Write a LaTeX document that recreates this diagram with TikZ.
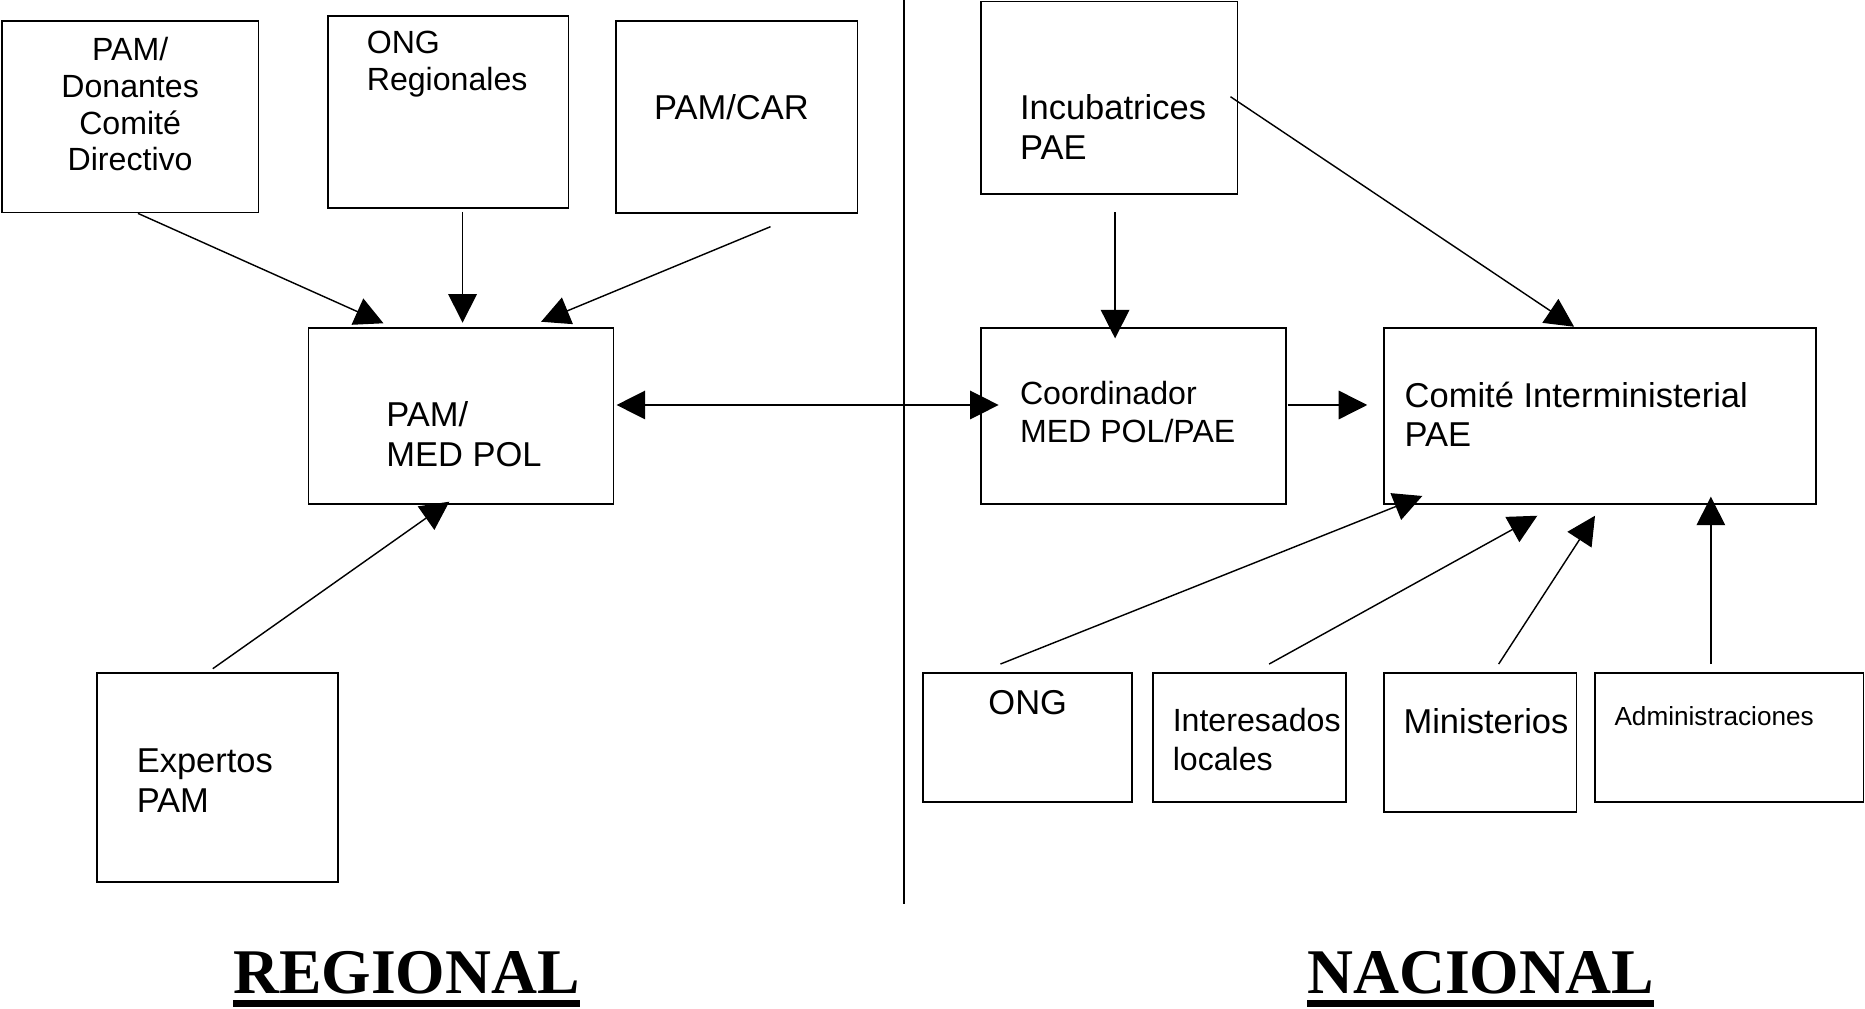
\documentclass[tikz,border=0pt]{standalone}
\usepackage{fontspec}
\setmainfont{Liberation Sans}
\newfontfamily\titlefont{Liberation Serif}
\usetikzlibrary{arrows.meta}
\newcommand\bxn[5]{\node[bx, minimum width={#4-#2}, minimum height={#5-#3}] (#1) at (#2,#3) {};}
\tikzset{
  bx/.style={draw, line width=1.4pt, inner sep=0pt, outer sep=0pt, anchor=north west},
  txt/.style={inner sep=0pt, outer sep=0pt, align=left, anchor=base west},
  big/.style={font=\fontsize{29}{33.2}\selectfont},
  med/.style={font=\fontsize{27}{30.8}\selectfont},
  sml/.style={font=\fontsize{22}{25}\selectfont},
  ttl/.style={inner sep=0pt, outer sep=0pt, anchor=base west, font=\titlefont\bfseries\fontsize{53.5}{60}\selectfont},
  arr/.style={-{Triangle[length=24pt,width=24pt]}, line width=1.2pt},
  darr/.style={{Triangle[length=24pt,width=24pt]}-{Triangle[length=24pt,width=24pt]}, line width=1.2pt}
}
\begin{document}
\begin{tikzpicture}[x=1pt,y=-1pt]
\useasboundingbox (0,0) rectangle (1568,847.5);
% boxes
\bxn{don}{1.5}{17.4}{217.4}{178.8}
\bxn{ongr}{276}{13.2}{478}{175}
\bxn{car}{518}{17.4}{721}{179}
\bxn{medpol}{259.4}{275.5}{515.9}{423.7}
\bxn{exp}{81.5}{566.1}{284.4}{741.8}
\bxn{incu}{824.6}{1.4}{1040.5}{163.1}
\bxn{coord}{824.6}{275.5}{1081}{423.7}
\bxn{comite}{1163.6}{275.5}{1526.8}{423.7}
\bxn{ong}{776}{566.1}{951.6}{674}
\bxn{inter}{969.6}{566.1}{1131.5}{674}
\bxn{mini}{1163.5}{566.1}{1325.5}{682.6}
\bxn{admin}{1341}{566.1}{1566.8}{674}
% texts (anchor = baseline of last line)
\node[txt, med, align=center, anchor=base] (donT) at (109.4,143.5) {PAM/\\Donantes\\Comité\\Directivo};
\node[txt, med] (ongrT) at (308.4,76.2) {ONG\\Regionales};
\node[txt, big] (carT) at (549.9,100.3) {PAM/CAR};
\node[txt, big] (medpolT) at (324.9,391.8) {PAM/\\MED POL};
\node[txt, big] (expT) at (115,683) {Expertos\\PAM};
\node[txt, big] (incuT) at (857.6,134) {Incubatrices\\PAE};
\node[txt, med] (coordT) at (857.6,371.9) {Coordinador\\[1pt]MED POL/PAE};
\node[txt, big] (comiteT) at (1181,375.5) {Comité Interministerial\\PAE};
\node[txt, big] (ongT) at (831,600.9) {ONG};
\node[txt, med] (interT) at (986,647.4) {Interesados\\[1.4pt]locales};
\node[txt, big] (miniT) at (1180,616.5) {Ministerios};
\node[txt, sml] (adminT) at (1357.4,610.1) {Administraciones};
% divider
\coordinate (divtop) at (759.8,0);
\coordinate (divbot) at (759.8,760);
\draw[line width=1.3pt] (divtop) -- (divbot);
% connector ends
\coordinate (a1s) at (116,179.4);   \coordinate (a1e) at (322.4,271.8);
\coordinate (a2s) at (388.9,178.2); \coordinate (a2e) at (388.9,271.3);
\coordinate (a3s) at (647.8,190.6); \coordinate (a3e) at (454.9,270.5);
\coordinate (a4s) at (178.9,562.2); \coordinate (a4e) at (377.8,421.8);
\coordinate (a5s) at (518.4,340.5); \coordinate (a5e) at (839.6,340.5);
\coordinate (a6s) at (937.5,178.3); \coordinate (a6e) at (937.5,284.5);
\coordinate (a7s) at (1034.5,81.3); \coordinate (a7e) at (1323.4,274.7);
\coordinate (a8s) at (1082.5,340.5); \coordinate (a8e) at (1149.5,340.5);
\coordinate (a9s) at (841.1,558.3); \coordinate (a9e) at (1195.8,417);
\coordinate (a10s) at (1067,558.3); \coordinate (a10e) at (1292.5,433.6);
\coordinate (a11s) at (1260,558.3); \coordinate (a11e) at (1341,433.6);
\coordinate (a12s) at (1438.4,558.3); \coordinate (a12e) at (1438.4,417.6);
\draw[arr] (a1s) -- (a1e);
\draw[arr] (a2s) -- (a2e);
\draw[arr] (a3s) -- (a3e);
\draw[arr] (a4s) -- (a4e);
\draw[darr] (a5s) -- (a5e);
\draw[arr] (a6s) -- (a6e);
\draw[arr] (a7s) -- (a7e);
\draw[arr] (a8s) -- (a8e);
\draw[arr] (a9s) -- (a9e);
\draw[arr] (a10s) -- (a10e);
\draw[arr] (a11s) -- (a11e);
\draw[arr] (a12s) -- (a12e);
% titles
\node[ttl] (reg) at (196,835) {REGIONAL};
\node[ttl] (nac) at (1099,835) {NACIONAL};
\fill ([yshift=-6pt]reg.base west) rectangle ([yshift=-12pt]reg.base east);
\fill ([yshift=-6pt]nac.base west) rectangle ([yshift=-12pt]nac.base east);
\end{tikzpicture}
\end{document}
